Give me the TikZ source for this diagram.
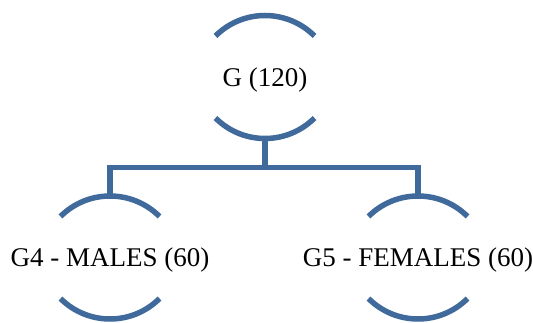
\documentclass[tikz,border=0pt]{standalone}
\usepackage{fontspec}
\setmainfont{Liberation Serif}
\usetikzlibrary{calc}
\definecolor{linkblue}{RGB}{63,106,155}
\tikzset{
  label/.style={inner sep=0pt, font=\fontsize{27}{32}\selectfont, text=black},
  rim/.style={draw=linkblue, line width=5.5pt, line cap=butt},
  link/.style={draw=linkblue, line width=5.5pt, line join=miter},
}
% Two facing arcs framing a label node (text sits slightly below the arcs' midline)
\newcommand{\framearcs}[1]{%
  \draw[rim] ($(#1)+(0,-5.5)$) ++(135:70) arc (135:45:70);
  \draw[rim] ($(#1)+(0,11.5)$) ++(225:70) arc (225:315:70);
}
\begin{document}
\begin{tikzpicture}[x=1pt,y=1pt]
  \useasboundingbox (0,0) rectangle (533,-323);
  \fill[white] (0,0) rectangle (533,-323);

  \node[label] (g) at (265,-80) {G (120)};
  \node[label] (m) at (110,-260.5) {G4 - MALES (60)};
  \node[label] (f) at (418,-260.5) {G5 - FEMALES (60)};

  \framearcs{g}
  \framearcs{m}
  \framearcs{f}

  % arc apexes where the connectors attach
  \coordinate (gb) at ($(g)+(0,-58.5)$);
  \coordinate (mt) at ($(m)+(0,65)$);
  \coordinate (ft) at ($(f)+(0,65)$);
  \coordinate (j) at ($(gb)+(0,-29)$);

  \draw[link] (gb) -- (j);
  \draw[link] (mt) |- (j) -| (ft);
\end{tikzpicture}
\end{document}
